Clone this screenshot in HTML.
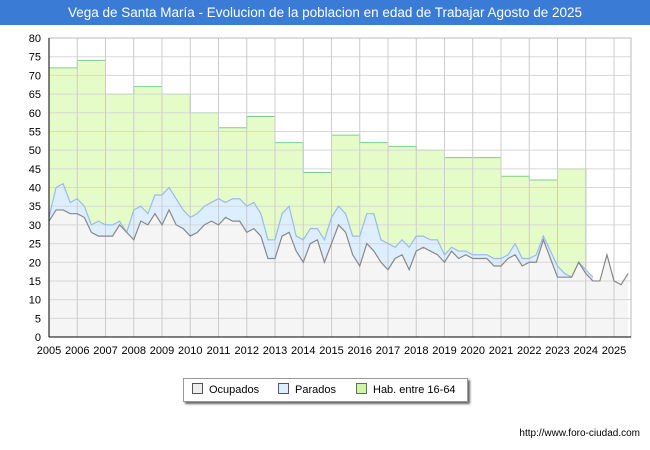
<!DOCTYPE html>
<html><head><meta charset="utf-8"><style>
body{margin:0;width:650px;height:450px;background:#fff;font-family:"Liberation Sans",sans-serif;overflow:hidden}
</style></head><body>
<div style="position:absolute;left:0;top:0;width:650px;height:25px;background:#3a7bd5;color:#fff;font-size:13.5px;line-height:25px;text-align:center">Vega de Santa María - Evolucion de la poblacion en edad de Trabajar Agosto de 2025</div>
<svg id="c" width="650" height="450" style="position:absolute;left:0;top:0"></svg>
<script>
const years=[2005,2006,2007,2008,2009,2010,2011,2012,2013,2014,2015,2016,2017,2018,2019,2020,2021,2022,2023];
const hab=[72,74,65,67,65,60,56,59,52,44,54,52,51,50,48,48,43,42,45];
const total=[32,40,41,36,37,35,30,31,30,30,31,28,34,35,33,38,38,40,37,34,32,33,35,36,37,36,37,37,35,36,33,26,26,33,35,27,26,29,29,26,32,35,33,27,27,33,33,26,25,24,26,24,27,27,26,26,22,24,23,23,22,22,22,21,21,22,25,21,21,22,27,23,19,17,16,20,18,16];
const ocup=[31,34,34,33,33,32,28,27,27,27,30,28,26,31,30,33,30,34,30,29,27,28,30,31,30,32,31,31,28,29,27,21,21,27,28,23,20,25,26,20,25,30,28,22,19,25,23,20,18,21,22,18,23,24,23,22,20,23,21,22,21,21,21,19,19,21,22,19,20,20,26,21,16,16,16,20,17,15,15,22,15,14,17];
const yTicks=[0,5,10,15,20,25,30,35,40,45,50,55,60,65,70,75,80];
const xLabels=[2005,2006,2007,2008,2009,2010,2011,2012,2013,2014,2015,2016,2017,2018,2019,2020,2021,2022,2023,2024,2025];
const L=49,R=631,T=38,B=337;
const X=t=>L+(t-2005)*28.25, Y=v=>B-v/80*(B-T);
const svg=document.getElementById('c');const NS='http://www.w3.org/2000/svg';
function mk(tag,at,parent){const e=document.createElementNS(NS,tag);for(const k in at)e.setAttribute(k,at[k]);(parent||svg).appendChild(e);return e;}
const bg=mk('rect',{x:L,y:T,width:R-L,height:B-T,fill:'#fff'});


let hp=`M${X(years[0])},${Y(0)}`;hab.forEach((v,i)=>{hp+=` L${X(years[i])},${Y(v)} L${X(years[i]+1)},${Y(v)}`;});
hp+=` L${X(years[years.length-1]+1)},${Y(0)}Z`;
const ha=mk('path',{d:hp,fill:'#e6fcc8',stroke:'#7ccf8a','stroke-width':1});


function area(arr,fill,stroke,name){let p=`M${X(2005)},${Y(0)}`;let l='';arr.forEach((v,i)=>{const t=2005+i/4;p+=` L${X(t)},${Y(v)}`;l+=(i?' L':'M')+X(t)+','+Y(v);});
p+=` L${X(2005+(arr.length-1)/4)},${Y(0)}Z`;
const a=mk('path',{d:p,fill:fill});


return l;}
const lp=area(total,'#ddeeff','#99bbee','parados');
const lo=area(ocup,'#f5f5f5','#888','ocupados');
yTicks.forEach(v=>{const g=mk('line',{x1:L,x2:R,y1:Y(v),y2:Y(v),stroke:'#d8d8d8'});


const t=mk('text',{x:41,y:Y(v)+4,'text-anchor':'end','font-size':11,fill:'#000'});t.textContent=v;

});
xLabels.forEach(v=>{const g=mk('line',{x1:X(v),x2:X(v),y1:T,y2:B,stroke:'#ccc'});


const t=mk('text',{x:X(v),y:354,'text-anchor':'middle','font-size':11,fill:'#000'});t.textContent=v;

});
const l1=mk('path',{d:lp,fill:'none',stroke:'#99bbee','stroke-width':1.2});


const l2=mk('path',{d:lo,fill:'none',stroke:'#888','stroke-width':1.2});


mk('rect',{x:L,y:T,width:R-L,height:B-T,fill:'none',stroke:'#bbb'});
mk('line',{x1:L,x2:L,y1:T,y2:B,stroke:'#000'});mk('line',{x1:L,x2:R,y1:B,y2:B,stroke:'#000'});
</script>
<div style="position:absolute;left:183px;top:378px;width:283px;height:22px;border:1px solid #999;box-shadow:2px 2px 2px #666;background:#fff;font-size:11px;line-height:22px">
<span style="position:absolute;left:8px"><i style="display:inline-block;width:9px;height:9px;border:1px solid #555;background:#eee;margin-right:6px;vertical-align:-1px"></i>Ocupados</span>
<span style="position:absolute;left:94px"><i style="display:inline-block;width:9px;height:9px;border:1px solid #557;background:#ddeeff;margin-right:6px;vertical-align:-1px"></i>Parados</span>
<span style="position:absolute;left:172px"><i style="display:inline-block;width:9px;height:9px;border:1px solid #575;background:#ccf5a8;margin-right:6px;vertical-align:-1px"></i>Hab. entre 16-64</span>
</div>
<div style="position:absolute;right:10px;top:428px;font-size:10px">http://www.foro-ciudad.com</div>
</body></html>
